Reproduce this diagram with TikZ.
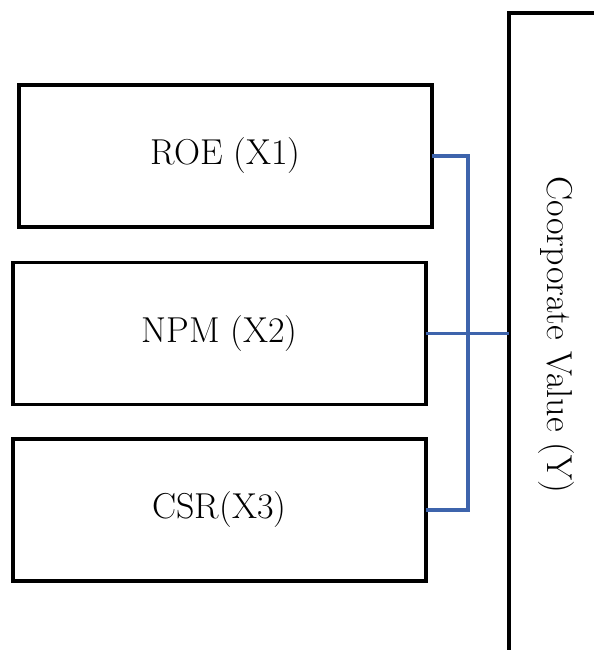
\documentclass[tikz,border=0pt]{standalone}
\usetikzlibrary{positioning}
\definecolor{linkblue}{RGB}{62,100,172}
\tikzset{
  varbox/.style={draw,line width=2.2pt,outer sep=0pt,minimum width=8.26cm,minimum height=2.84cm,font=\fontsize{20.5}{24}\selectfont},
  link/.style={draw=linkblue,line width=1.8pt}
}

\begin{document}
\begin{tikzpicture}[x=0.02cm,y=-0.02cm]
        \useasboundingbox (0,0) rectangle (594,650);
        \clip (0,0) rectangle (594,650);
        \node[varbox] (roe) at (225.5,156) {ROE (X1)};
        \node[varbox] (npm) at (219.5,333.5) {NPM (X2)};
        \node[varbox] (csr) at (219.5,510) {CSR(X3)};
        \node[draw,line width=2.2pt,outer sep=0pt,anchor=north west,minimum width=3cm,minimum height=14cm] (cvbox) at (509,13) {};
        \node[rotate=-90,font=\fontsize{20.5}{24}\selectfont] (cv) at (556,335) {Coorporate Value (Y)};
        \coordinate (bus) at (468,333.5);
        \draw[link] (roe.east) -| (bus);
        \draw[link] (csr.east) -| (bus);
        \draw[link] (npm.east) -- (npm.east -| cvbox.west);
      \end{tikzpicture}
\end{document}
